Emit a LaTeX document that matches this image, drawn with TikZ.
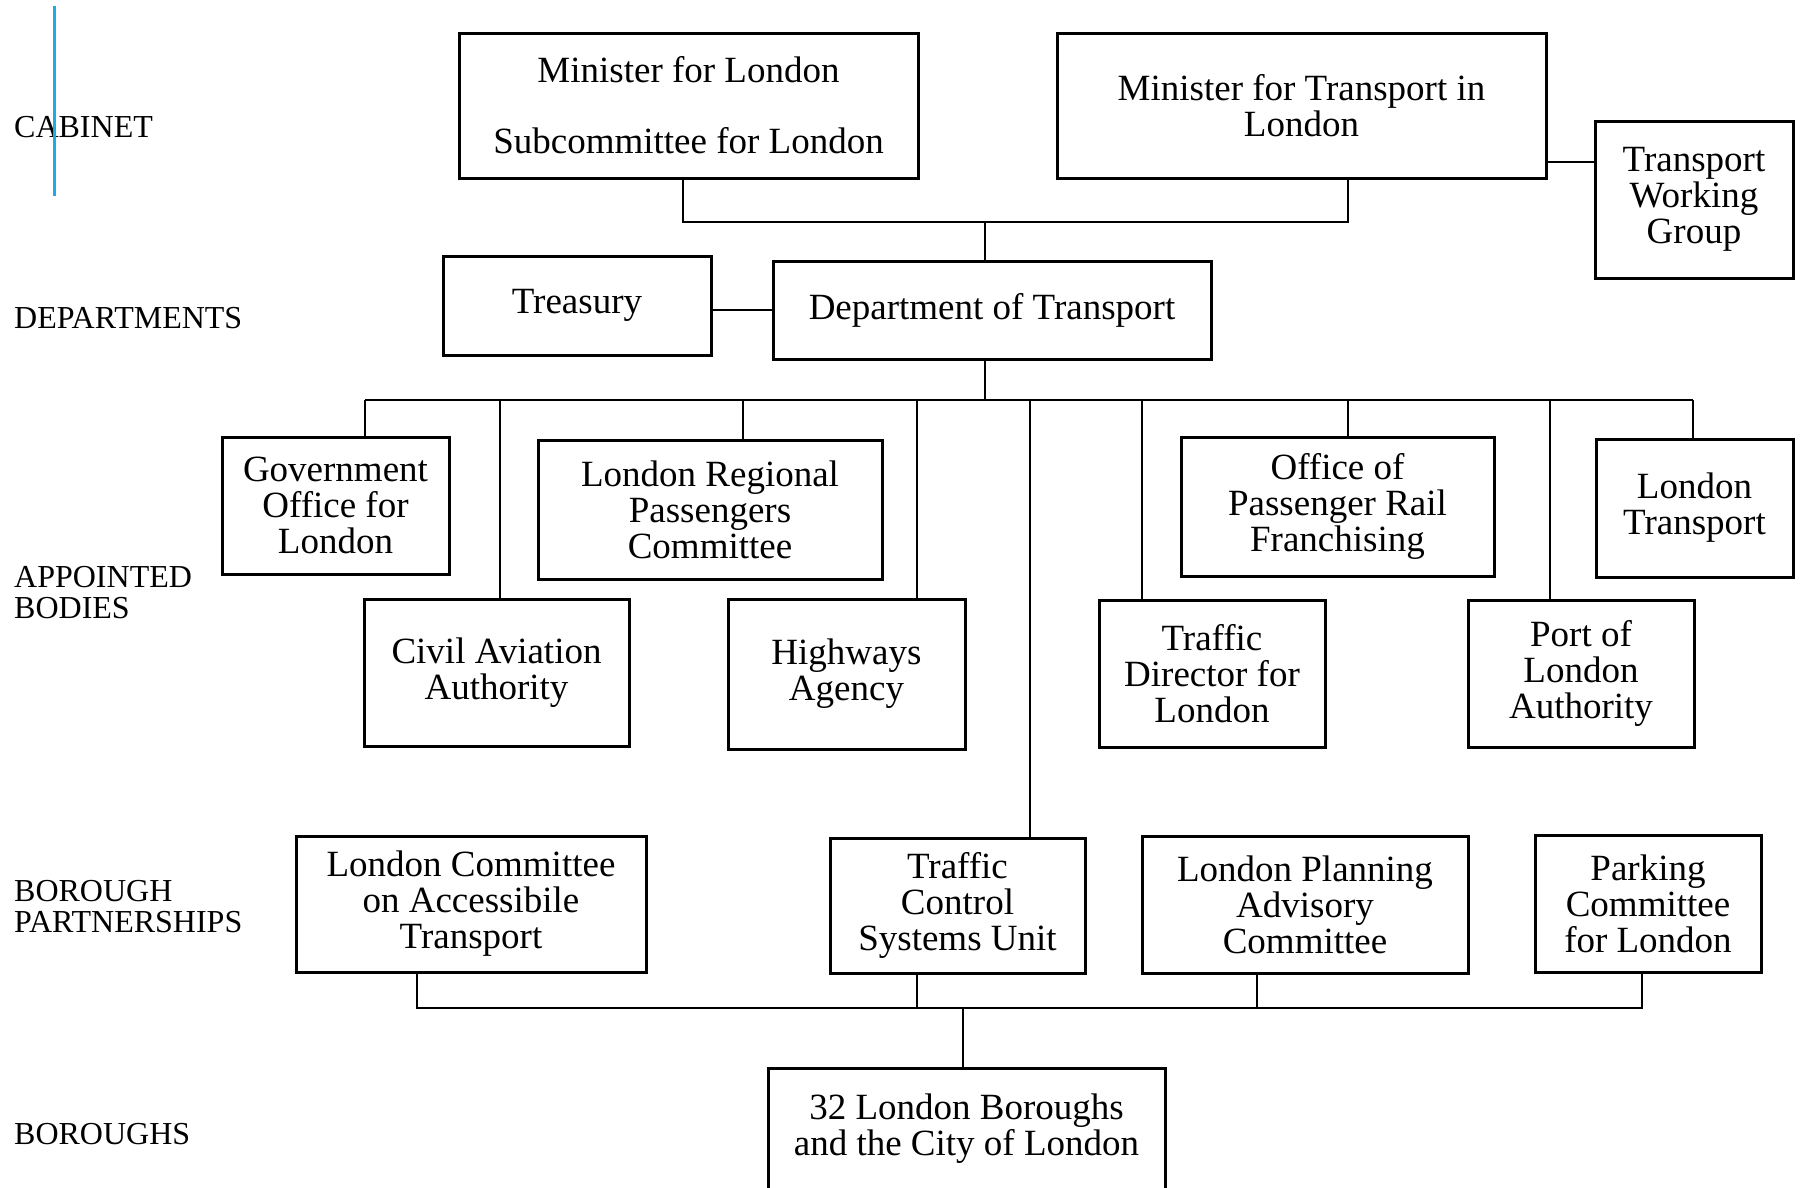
\documentclass[tikz,border=0pt]{standalone}
\usepackage{fontspec}
\setmainfont{Liberation Serif}
\definecolor{marker}{RGB}{30,170,228}
\begin{document}
\begin{tikzpicture}[x=1pt,y=-1pt,
  box/.style={draw=black,line width=3pt,rectangle,align=center,inner sep=0pt,
    font=\fontsize{37}{36}\selectfont},
  conn/.style={draw=black,line width=2pt},
  lvl/.style={anchor=west,align=left,inner sep=0pt,font=\fontsize{32}{31}\selectfont}]
\useasboundingbox (0,0) rectangle (1800,1187);
\clip (0,0) rectangle (1800,1187);
% level labels
\node[lvl] (lcab) at (14,127) {CABINET};
\node[lvl] (ldep) at (14,318) {DEPARTMENTS};
\node[lvl] (lapp) at (14,592.5) {APPOINTED\\BODIES};
\node[lvl] (lbp) at (14,906.5) {BOROUGH\\PARTNERSHIPS};
\node[lvl] (lbor) at (14,1134) {BOROUGHS};
\draw[marker,line width=3pt] (54,6) -- (54,196);
% boxes
\node[box,minimum width=459pt,minimum height=145pt] (ml) at (688.5,105.5) {Minister for London\\[35pt]Subcommittee for London};
\node[box,minimum width=489pt,minimum height=145pt] (mt) at (1301.5,105.5) {Minister for Transport in\\London};
\node[box,minimum width=198pt,minimum height=157pt] (twg) at (1694,199.5) {Transport\\Working\\Group};
\node[box,minimum width=268pt,minimum height=99pt] (tre) at (577,305.5) {Treasury};
\node[box,minimum width=438pt,minimum height=98pt] (dot) at (992,310) {Department of Transport};
\node[box,minimum width=227pt,minimum height=137pt] (gol) at (335.5,505.5) {Government\\Office for\\London};
\node[box,minimum width=344pt,minimum height=139pt] (lrpc) at (710,509.5) {London Regional\\Passengers\\Committee};
\node[box,minimum width=313pt,minimum height=139pt] (oprf) at (1337.5,506.5) {Office of\\Passenger Rail\\Franchising};
\node[box,minimum width=197pt,minimum height=138pt] (lt) at (1694.5,508) {London\\Transport};
\node[box,minimum width=265pt,minimum height=147pt] (caa) at (496.5,672.5) {Civil Aviation\\Authority};
\node[box,minimum width=237pt,minimum height=150pt] (ha) at (846.5,674) {Highways\\Agency};
\node[box,minimum width=226pt,minimum height=147pt] (tdl) at (1212,673.5) {Traffic\\Director for\\London};
\node[box,minimum width=226pt,minimum height=147pt] (pla) at (1581,673.5) {Port of\\London\\Authority};
\node[box,minimum width=350pt,minimum height=136pt] (lcat) at (471,904) {London Committee\\on Accessibile\\Transport};
\node[box,minimum width=255pt,minimum height=135pt] (tcsu) at (957.5,905.5) {Traffic\\Control\\Systems Unit};
\node[box,minimum width=326pt,minimum height=137pt] (lpac) at (1305,904.5) {London Planning\\Advisory\\Committee};
\node[box,minimum width=226pt,minimum height=137pt] (pcl) at (1648,903.5) {Parking\\Committee\\for London};
\node[box,minimum width=397pt,minimum height=122pt] (bor) at (966.5,1129) {32 London Boroughs\\and the City of London};
% cabinet connectors
\coordinate (jtop) at (985,222);
\draw[conn] ([xshift=-5.5pt]ml.south) |- (jtop) -| ([xshift=46.5pt]mt.south);
\draw[conn] (jtop) -- (jtop |- dot.north);
\draw[conn] ([yshift=37.5pt]twg.west) coordinate (tw) -- (tw -| mt.east);
\draw[conn] (dot.west) -- (dot.west -| tre.east);
% appointed bodies bus
\coordinate (bus) at (985,400);
\coordinate (busL) at (365,400);
\coordinate (busR) at (1693,400);
\draw[conn] (dot.south -| bus) -- (bus);
\draw[conn] (busL) -- (busR);
\draw[conn] ([xshift=29.5pt]gol.north) -- ([xshift=29.5pt]gol.north |- bus);
\draw[conn] ([xshift=3.5pt]caa.north) -- ([xshift=3.5pt]caa.north |- bus);
\draw[conn] ([xshift=33pt]lrpc.north) -- ([xshift=33pt]lrpc.north |- bus);
\draw[conn] ([xshift=70.5pt]ha.north) -- ([xshift=70.5pt]ha.north |- bus);
\draw[conn] ([xshift=72.5pt]tcsu.north) -- ([xshift=72.5pt]tcsu.north |- bus);
\draw[conn] ([xshift=-70pt]tdl.north) -- ([xshift=-70pt]tdl.north |- bus);
\draw[conn] ([xshift=10.5pt]oprf.north) -- ([xshift=10.5pt]oprf.north |- bus);
\draw[conn] ([xshift=-31pt]pla.north) -- ([xshift=-31pt]pla.north |- bus);
\draw[conn] ([xshift=-1.5pt]lt.north) -- ([xshift=-1.5pt]lt.north |- bus);
% borough bus
\coordinate (bbus) at (963,1008);
\draw[conn] ([xshift=-54pt]lcat.south) |- (bbus);
\draw[conn] ([xshift=-6pt]pcl.south) |- (bbus);
\draw[conn] ([xshift=-40.5pt]tcsu.south) -- ([xshift=-40.5pt]tcsu.south |- bbus);
\draw[conn] ([xshift=-48pt]lpac.south) -- ([xshift=-48pt]lpac.south |- bbus);
\draw[conn] (bbus) -- (bbus |- bor.north);
\end{tikzpicture}
\end{document}
